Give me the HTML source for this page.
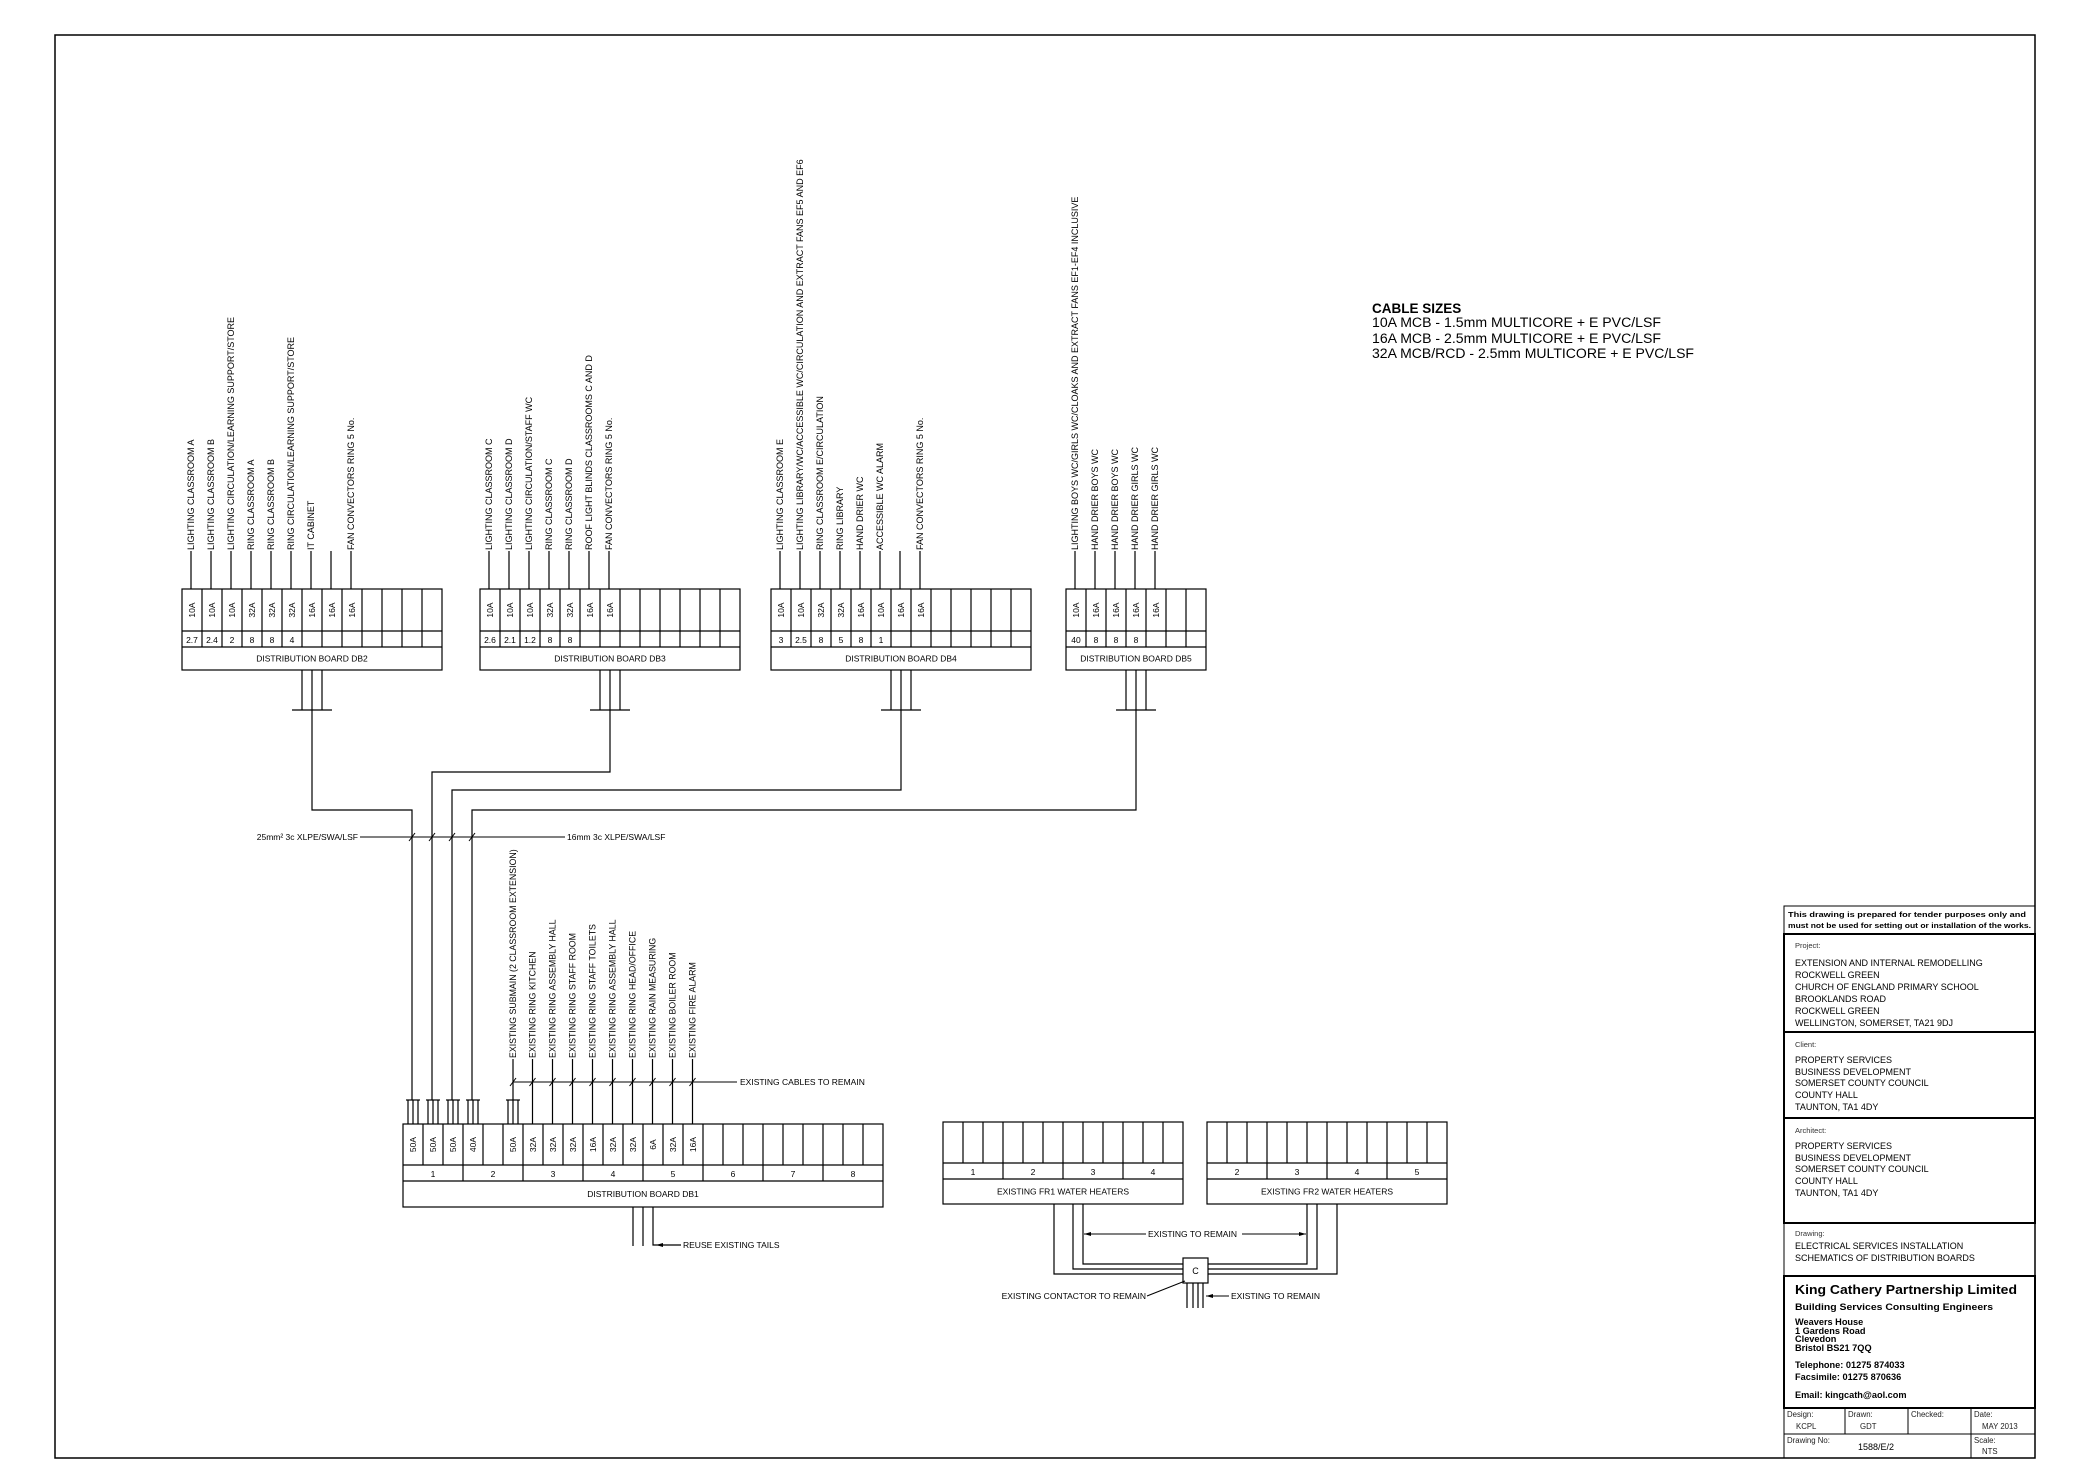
<!DOCTYPE html>
<html><head><meta charset="utf-8"><style>
html,body{margin:0;padding:0;background:#fff;}
svg{display:block;font-family:"Liberation Sans",Arial,sans-serif;}
</style></head><body>
<svg id="s" xmlns="http://www.w3.org/2000/svg" width="2100" height="1483" viewBox="0 0 2100 1483">
<rect x="0" y="0" width="2100" height="1483" fill="#fff"/>
<rect x="55" y="35" width="1980" height="1423" fill="none" stroke="#000" stroke-width="1.5"/>
<g font-size="13.5">
<text x="1372" y="313" font-weight="bold">CABLE SIZES</text>
<text x="1372" y="327" textLength="289" lengthAdjust="spacingAndGlyphs">10A MCB - 1.5mm MULTICORE + E PVC/LSF</text>
<text x="1372" y="343" textLength="289" lengthAdjust="spacingAndGlyphs">16A MCB - 2.5mm MULTICORE + E PVC/LSF</text>
<text x="1372" y="358" textLength="322" lengthAdjust="spacingAndGlyphs">32A MCB/RCD - 2.5mm MULTICORE + E PVC/LSF</text>
</g>
<g id="d" stroke="#000" fill="none" stroke-width="1.2"></g>
<g id="t" font-size="8.8" fill="#000"></g>
<!-- title block -->
<g stroke="#000" fill="none">
<rect x="1784" y="906" width="251" height="28" stroke-width="1"/>
<rect x="1784" y="934" width="251" height="98" stroke-width="2"/>
<rect x="1784" y="1032" width="251" height="86" stroke-width="2"/>
<rect x="1784" y="1118" width="251" height="105" stroke-width="2"/>
<rect x="1784" y="1223" width="251" height="53" stroke-width="1"/>
<rect x="1784" y="1276" width="251" height="132" stroke-width="2"/>
<rect x="1784" y="1408" width="251" height="26" stroke-width="1"/>
<rect x="1784" y="1434" width="251" height="24" stroke-width="1"/>
<line x1="1845" y1="1408" x2="1845" y2="1434"/>
<line x1="1908" y1="1408" x2="1908" y2="1434"/>
<line x1="1971" y1="1408" x2="1971" y2="1458"/>
</g>
<g fill="#000">
<text x="1788" y="917" font-size="7.6" font-weight="bold" textLength="238" lengthAdjust="spacingAndGlyphs">This drawing is prepared for tender purposes only and</text>
<text x="1788" y="928" font-size="7.6" font-weight="bold" textLength="243" lengthAdjust="spacingAndGlyphs">must not be used for setting out or installation of the works.</text>
<g font-size="7.5" fill="#333">
<text x="1795" y="948">Project:</text>
<text x="1795" y="1047">Client:</text>
<text x="1795" y="1133">Architect:</text>
<text x="1795" y="1236">Drawing:</text>
</g>
<g font-size="9">
<text x="1795" y="966">EXTENSION AND INTERNAL REMODELLING</text>
<text x="1795" y="978">ROCKWELL GREEN</text>
<text x="1795" y="990">CHURCH OF ENGLAND PRIMARY SCHOOL</text>
<text x="1795" y="1002">BROOKLANDS ROAD</text>
<text x="1795" y="1014">ROCKWELL GREEN</text>
<text x="1795" y="1026">WELLINGTON, SOMERSET, TA21 9DJ</text>
<text x="1795" y="1063">PROPERTY SERVICES</text>
<text x="1795" y="1075">BUSINESS DEVELOPMENT</text>
<text x="1795" y="1086">SOMERSET COUNTY COUNCIL</text>
<text x="1795" y="1098">COUNTY HALL</text>
<text x="1795" y="1110">TAUNTON, TA1 4DY</text>
<text x="1795" y="1149">PROPERTY SERVICES</text>
<text x="1795" y="1161">BUSINESS DEVELOPMENT</text>
<text x="1795" y="1172">SOMERSET COUNTY COUNCIL</text>
<text x="1795" y="1184">COUNTY HALL</text>
<text x="1795" y="1196">TAUNTON, TA1 4DY</text>
<text x="1795" y="1249">ELECTRICAL SERVICES INSTALLATION</text>
<text x="1795" y="1261">SCHEMATICS OF DISTRIBUTION BOARDS</text>
</g>
<text x="1795" y="1294" font-size="12.5" font-weight="bold" textLength="222" lengthAdjust="spacingAndGlyphs">King Cathery Partnership Limited</text>
<g font-size="9.2" font-weight="bold">
<text x="1795" y="1310" textLength="198" lengthAdjust="spacingAndGlyphs">Building Services Consulting Engineers</text>
<text x="1795" y="1325">Weavers House</text>
<text x="1795" y="1334">1 Gardens Road</text>
<text x="1795" y="1342">Clevedon</text>
<text x="1795" y="1351">Bristol BS21 7QQ</text>
<text x="1795" y="1368">Telephone: 01275 874033</text>
<text x="1795" y="1380">Facsimile: 01275 870636</text>
<text x="1795" y="1398">Email: kingcath@aol.com</text>
</g>
<g font-size="7.8" fill="#222">
<text x="1787" y="1417">Design:</text><text x="1796" y="1429">KCPL</text>
<text x="1848" y="1417">Drawn:</text><text x="1860" y="1429">GDT</text>
<text x="1911" y="1417">Checked:</text>
<text x="1974" y="1417">Date:</text><text x="1982" y="1429">MAY 2013</text>
<text x="1787" y="1443">Drawing No:</text>
<text x="1974" y="1443">Scale:</text><text x="1982" y="1454">NTS</text>
</g>
<text x="1858" y="1450" font-size="9">1588/E/2</text>
</g>
</svg>
<script>
var NS="http://www.w3.org/2000/svg",D=document.getElementById("d"),T=document.getElementById("t");
function L(x1,y1,x2,y2,w){var e=document.createElementNS(NS,"line");e.setAttribute("x1",x1);e.setAttribute("y1",y1);e.setAttribute("x2",x2);e.setAttribute("y2",y2);if(w)e.setAttribute("stroke-width",w);D.appendChild(e);}
function P(pts){var e=document.createElementNS(NS,"polyline");e.setAttribute("points",pts);D.appendChild(e);}
function R(x,y,w,h){var e=document.createElementNS(NS,"rect");e.setAttribute("x",x);e.setAttribute("y",y);e.setAttribute("width",w);e.setAttribute("height",h);D.appendChild(e);}
function Tx(x,y,s,o){var e=document.createElementNS(NS,"text");e.setAttribute("x",x);e.setAttribute("y",y);e.textContent=s;o=o||{};if(o.a)e.setAttribute("text-anchor",o.a);if(o.fs)e.setAttribute("font-size",o.fs);if(o.r)e.setAttribute("transform","rotate(-90 "+x+" "+y+")");T.appendChild(e);return e;}
function AH(x,y,dir){var e=document.createElementNS(NS,"polygon");var d=dir;e.setAttribute("points",x+","+y+" "+(x-7*d)+","+(y-2)+" "+(x-7*d)+","+(y+2));e.setAttribute("fill","#000");T.appendChild(e);}
function board(x,y,n,h1,h2,h3,amps,nums,title,groups){
 var w=n*20;R(x,y,w,h1+h2+h3);L(x,y+h1,x+w,y+h1);L(x,y+h1+h2,x+w,y+h1+h2);
 for(var i=1;i<n;i++)L(x+i*20,y,x+i*20,y+h1);
 if(groups){for(var g=1;g<n/3;g++)L(x+g*60,y+h1,x+g*60,y+h1+h2);for(var g=0;g<groups.length;g++)Tx(x+g*60+30,y+h1+h2-4,groups[g],{a:"middle",fs:8.5});}
 else{for(var i=1;i<n;i++)L(x+i*20,y+h1,x+i*20,y+h1+h2);for(var i=0;i<nums.length;i++)Tx(x+i*20+10,y+h1+h2-4,nums[i],{a:"middle",fs:8.5});}
 for(var i=0;i<amps.length;i++)if(amps[i]){var cx=x+i*20+13,cy=y+h1/2;var e=Tx(cx,cy,amps[i],{a:"middle",fs:8.5,r:1});}
 Tx(x+w/2,y+h1+h2+h3/2+3,title,{a:"middle",fs:8.5});
}
function labels(x,top,end,arr,fs){for(var i=0;i<arr.length;i++){if(arr[i]===undefined)continue;var cx=x+i*20+9;L(cx,top,cx,end);if(arr[i])Tx(cx+3,end-1,arr[i],{r:1,fs:fs||9});}}
function tails(c,y1,y2){L(c-10,y1,c-10,y2);L(c,y1,c,y2);L(c+10,y1,c+10,y2);L(c-20,y2,c+20,y2);}
board(182,589,13,42,16,23,["10A","10A","10A","32A","32A","32A","16A","16A","16A"],["2.7","2.4","2","8","8","4"],"DISTRIBUTION BOARD DB2");
labels(182,589,551,["LIGHTING CLASSROOM A","LIGHTING CLASSROOM B","LIGHTING CIRCULATION/LEARNING SUPPORT/STORE","RING CLASSROOM A","RING CLASSROOM B","RING CIRCULATION/LEARNING SUPPORT/STORE","IT CABINET","","FAN CONVECTORS RING 5 No."]);
board(480,589,13,42,16,23,["10A","10A","10A","32A","32A","16A","16A"],["2.6","2.1","1.2","8","8"],"DISTRIBUTION BOARD DB3");
labels(480,589,551,["LIGHTING CLASSROOM C","LIGHTING CLASSROOM D","LIGHTING CIRCULATION/STAFF WC","RING CLASSROOM C","RING CLASSROOM D","ROOF LIGHT BLINDS CLASSROOMS C AND D","FAN CONVECTORS RING 5 No."]);
board(771,589,13,42,16,23,["10A","10A","32A","32A","16A","10A","16A","16A"],["3","2.5","8","5","8","1"],"DISTRIBUTION BOARD DB4");
labels(771,589,551,["LIGHTING CLASSROOM E","LIGHTING LIBRARY/WC/ACCESSIBLE WC/CIRCULATION AND EXTRACT FANS EF5 AND EF6","RING CLASSROOM E/CIRCULATION","RING LIBRARY","HAND DRIER WC","ACCESSIBLE WC ALARM","","FAN CONVECTORS RING 5 No."]);
board(1066,589,7,42,16,23,["10A","16A","16A","16A","16A"],["40","8","8","8"],"DISTRIBUTION BOARD DB5");
labels(1066,589,551,["LIGHTING BOYS WC/GIRLS WC/CLOAKS AND EXTRACT FANS EF1-EF4 INCLUSIVE","HAND DRIER BOYS WC","HAND DRIER BOYS WC","HAND DRIER GIRLS WC","HAND DRIER GIRLS WC"]);
tails(312,670,710);tails(610,670,710);tails(901,670,710);tails(1136,670,710);
P("312,710 312,810 412,810 412,1100");
P("610,710 610,772 432,772 432,1100");
P("901,710 901,790 452,790 452,1100");
P("1136,710 1136,810 472,810 472,1100");
L(360,837,565,837,1);
[412,432,452,472].forEach(function(x){L(x-3,841,x+3,833,1);});
Tx(358,840,"25mm\u00b2 3c XLPE/SWA/LSF",{a:"end",fs:8.5});
Tx(567,840,"16mm 3c XLPE/SWA/LSF",{fs:8.5});
board(403,1124,24,41,16,26,["50A","50A","50A","40A","","50A","32A","32A","32A","16A","32A","32A","6A","32A","16A"],null,"DISTRIBUTION BOARD DB1",["1","2","3","4","5","6","7","8"]);
[0,1,2,3,5].forEach(function(i){var c=403+i*20+10;L(c-5,1100,c-5,1124);L(c,1100,c,1124);L(c+5,1100,c+5,1124);L(c-7,1100,c+7,1100);});
L(513,1100,513,1059);
for(var i=6;i<15;i++){var c=403+i*20+9.5;L(c,1124,c,1059);}
var dl=["EXISTING SUBMAIN (2 CLASSROOM EXTENSION)","EXISTING RING KITCHEN","EXISTING RING ASSEMBLY HALL","EXISTING RING STAFF ROOM","EXISTING RING STAFF TOILETS","EXISTING RING ASSEMBLY HALL","EXISTING RING HEAD/OFFICE","EXISTING RAIN MEASURING","EXISTING BOILER ROOM","EXISTING FIRE ALARM"];
for(var i=0;i<dl.length;i++){var c=(i==0?513:403+(i+5)*20+9.5);Tx(c+3,1058,dl[i],{r:1,fs:8.8});L(c-3,1086,c+3,1078,1);}
L(513,1082,737,1082,1);
Tx(740,1085,"EXISTING CABLES TO REMAIN",{fs:8.5});
L(633,1207,633,1246);L(643,1207,643,1246);P("653,1207 653,1245 681,1245");AH(656,1245,-1);
Tx(683,1248,"REUSE EXISTING TAILS",{fs:8.5});
board(943,1122,12,41,16,25,[],null,"EXISTING FR1 WATER HEATERS",["1","2","3","4"]);
board(1207,1122,12,41,16,25,[],null,"EXISTING FR2 WATER HEATERS",["2","3","4","5"]);
P("1054,1204 1054,1274 1183,1274");P("1073,1204 1073,1269 1183,1269");P("1083,1204 1083,1264 1183,1264");
P("1307,1204 1307,1264 1208,1264");P("1317,1204 1317,1269 1208,1269");P("1337,1204 1337,1274 1208,1274");
(function(){var e=document.createElementNS(NS,"rect");e.setAttribute("x",1183);e.setAttribute("y",1258);e.setAttribute("width",25);e.setAttribute("height",25);e.setAttribute("fill","#fff");D.appendChild(e);})();
Tx(1195.5,1274,"C",{a:"middle",fs:9});
[1187,1193,1198,1203].forEach(function(x){L(x,1283,x,1308);});
L(1084,1234,1146,1234,1);L(1242,1234,1306,1234,1);AH(1084,1234,-1);AH(1306,1234,1);
Tx(1148,1237,"EXISTING TO REMAIN",{fs:8.5});
Tx(1146,1299,"EXISTING CONTACTOR TO REMAIN",{a:"end",fs:8.5});
L(1147,1296,1185,1281,1);
L(1229,1296,1206,1296,1);AH(1206,1296,-1);
Tx(1231,1299,"EXISTING TO REMAIN",{fs:8.5});
</script>
</body></html>
